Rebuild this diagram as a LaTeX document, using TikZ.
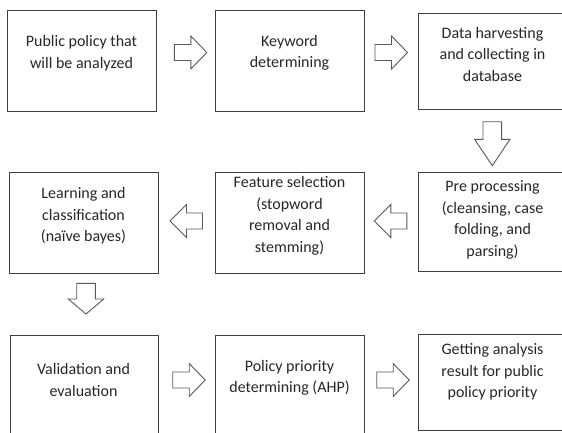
\documentclass[tikz,border=0pt]{standalone}
\usepackage{fontspec}
\setmainfont{Carlito}
\usetikzlibrary{positioning}

\tikzset{
    box/.style={draw=black!75, line width=1pt, minimum width=149pt, minimum height=101pt, inner sep=0pt, anchor=north west},
    txt/.style={align=center, inner sep=0pt, text=black!85, font=\fontsize{16}{21.5}\selectfont},
    blk/.style={draw=black!65, line width=0.9pt, fill=white},
    pics/rarr/.style={code={
        \draw[blk](0,-8)--(16.5,-8)--(16.5,-16.5)--(32.5,0)--(16.5,16.5)--(16.5,8)--(0,8)--cycle;}},
    pics/larr/.style={code={
        \draw[blk](0,0)--(16.5,-16.5)--(16.5,-8)--(32.5,-8)--(32.5,8)--(16.5,8)--(16.5,16.5)--cycle;}},
    pics/darr/.style n args={2}{code={
        \draw[blk](-9.3,0)--(9.3,0)--(9.3,#1)--(17.7,#1)--(0,#1+#2)--(-17.7,#1)--(-9.3,#1)--cycle;}}
}

\begin{document}
\begin{tikzpicture}[x=1pt,y=-1pt]
    \useasboundingbox(0,0)rectangle(562,432);
    \clip(0,0)rectangle(562,432);

    % first row
    \node[box,minimum height=101.5pt](policy)at(7,9.5){};
    \node[box,minimum height=101.5pt](keyword)at(215,9.5){};
    \node[box,minimum height=96pt](harvest)at(418,12.5){};
    \node[txt](policy-t)at(81.5,53){Public policy that\\will be analyzed};
    \node[txt](keyword-t)at(289.5,53){Keyword\\determining};
    \node[txt](harvest-t)at(492.5,54){Data harvesting\\and collecting in\\database};

    \pic at(174.3,52.5){rarr};
    \pic at(375,52.5){rarr};
    \pic at(492.3,121.7){darr={17.6}{26.4}};

    % second row
    \node[box](learning)at(9,172){};
    \node[box](feature)at(215,172){};
    \node[box,minimum height=99pt](preproc)at(418,172){};
    \node[txt](learning-t)at(83.5,216){Learning and\\classification\\(naïve bayes)};
    \node[txt](feature-t)at(289.5,216){Feature selection\\(stopword\\removal and\\stemming)};
    \node[txt](preproc-t)at(492.5,220){Pre processing\\(cleansing, case\\folding, and\\parsing)};

    \pic at(374.3,221){larr};
    \pic at(170,221){larr};
    \pic at(86,283.3){darr={15.7}{15}};

    % third row
    \node[box,minimum width=148.5pt,minimum height=110pt](validation)at(9.5,335){};
    \node[box,minimum width=148.5pt,minimum height=110pt](ahp)at(215,335){};
    \node[box,minimum height=96pt](result)at(418,334){};
    \node[txt](validation-t)at(83.5,380){Validation and\\evaluation};
    \node[txt](ahp-t)at(289.5,378){Policy priority\\determining (AHP)};
    \node[txt](result-t)at(492.5,372){Getting analysis\\result for public\\policy priority};

    \pic at(172.7,380){rarr};
    \pic at(376.7,380){rarr};
\end{tikzpicture}
\end{document}
